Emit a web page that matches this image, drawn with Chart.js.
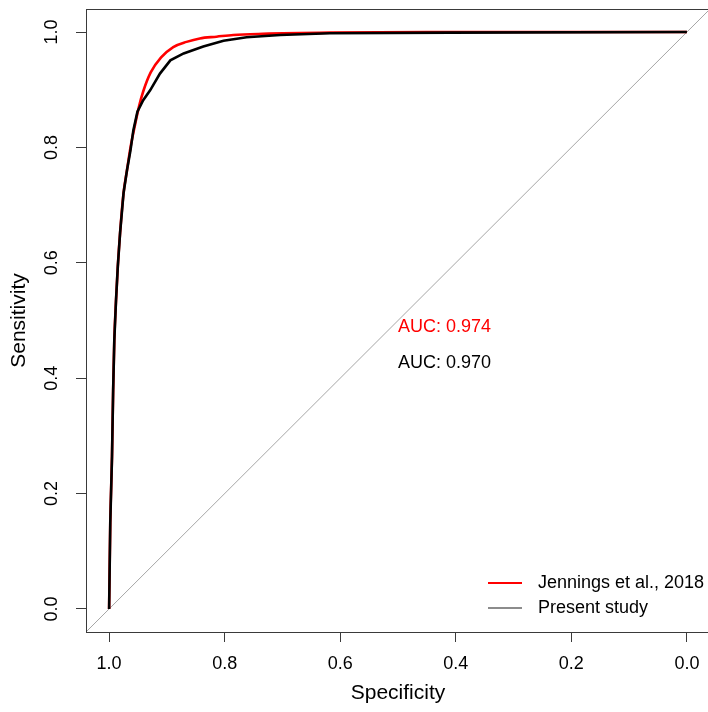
<!DOCTYPE html>
<html>
<head>
<meta charset="utf-8">
<script src="https://cdn.jsdelivr.net/npm/chart.js@4.4.1/dist/chart.umd.min.js"></script>
<style>
html, body { margin:0; padding:0; overflow:hidden; background:#fff; }
#wrap { width:720px; height:712px; }
</style>
</head>
<body>
<div id="wrap"><canvas id="c" width="720" height="712"></canvas></div>
<script>
// ---- data (specificity / sensitivity) ----
const tickValues = [0.0, 0.2, 0.4, 0.6, 0.8, 1.0];
const axisLimits = [-0.04, 1.04];

const jenningsSpec = [1.000, 0.998, 0.995, 0.993, 0.991, 0.988, 0.985, 0.981, 0.975, 0.969, 0.963, 0.955, 0.948, 0.941, 0.928, 0.910, 0.889, 0.866, 0.843, 0.814, 0.785, 0.734, 0.618, 0.450, 0.000];
const jenningsSens = [0.000, 0.149, 0.264, 0.380, 0.466, 0.536, 0.593, 0.652, 0.721, 0.761, 0.800, 0.840, 0.872, 0.897, 0.930, 0.956, 0.974, 0.983, 0.989, 0.992, 0.995, 0.997, 0.999, 1.000, 1.000];

const presentSpec = [1.000, 0.998, 0.995, 0.993, 0.991, 0.988, 0.985, 0.981, 0.975, 0.969, 0.963, 0.958, 0.951, 0.941, 0.929, 0.912, 0.894, 0.871, 0.837, 0.802, 0.762, 0.704, 0.618, 0.410, 0.000];
const presentSens = [0.000, 0.149, 0.264, 0.380, 0.466, 0.536, 0.593, 0.652, 0.721, 0.761, 0.795, 0.830, 0.862, 0.882, 0.899, 0.928, 0.951, 0.963, 0.975, 0.985, 0.991, 0.995, 0.998, 0.999, 1.000];

const seriesLabels = ["Jennings et al., 2018", "Present study"];
const legendColors = ["#ff0000", "#8c8c8c"];
const aucLabels = ["AUC: 0.974", "AUC: 0.970"];
const aucPos = [[0.5, 0.489], [0.5, 0.426]];
const aucColors = ["#ff0000", "#000000"];

// chance diagonal: sensitivity = 1 - specificity, across the axis limits
const diagX = [axisLimits[1], axisLimits[0]];

const FONT = "'Liberation Sans', Arimo, Helvetica, Arial, sans-serif";

const zip = (xs, ys) => xs.map((x, i) => ({x: x, y: ys[i]}));

const boxPlugin = {
  id: 'boxPlugin',
  afterDraw(chart) {
    const {ctx, chartArea: a, scales} = chart;
    ctx.save();
    ctx.strokeStyle = '#3a3a3a';
    ctx.lineWidth = 1;
    ctx.strokeRect(a.left + 0.5, a.top + 0.5, a.right - a.left, a.bottom - a.top);
    // AUC texts
    ctx.font = '18px ' + FONT;
    ctx.textAlign = 'left';
    ctx.textBaseline = 'middle';
    aucLabels.forEach((t, i) => {
      ctx.fillStyle = aucColors[i];
      ctx.fillText(t, scales.x.getPixelForValue(aucPos[i][0]), scales.y.getPixelForValue(aucPos[i][1]));
    });
    // legend (bottom right inside plot)
    const lx0 = a.right - 222, lx1 = a.right - 188, tx = a.right - 172;
    const ly = [a.bottom - 49, a.bottom - 24];
    seriesLabels.forEach((t, i) => {
      ctx.strokeStyle = legendColors[i];
      ctx.lineWidth = 2;
      ctx.beginPath();
      ctx.moveTo(lx0, ly[i]);
      ctx.lineTo(lx1, ly[i]);
      ctx.stroke();
      ctx.fillStyle = '#000';
      ctx.fillText(t, tx, ly[i]);
    });
    ctx.restore();
  }
};

const setTicks = (scale) => { scale.ticks = tickValues.map(v => ({value: v})); };

new Chart(document.getElementById('c'), {
  type: 'scatter',
  data: {
    datasets: [
      {
        label: 'diagonal',
        data: zip(diagX, diagX.map(x => 1 - x)),
        showLine: true, borderColor: '#a6a6a6', borderWidth: 1,
        pointRadius: 0, order: 3
      },
      {
        label: seriesLabels[0],
        data: zip(jenningsSpec, jenningsSens),
        showLine: true, borderColor: '#ff0000', borderWidth: 2.6,
        pointRadius: 0, order: 2, cubicInterpolationMode: 'monotone'
      },
      {
        label: seriesLabels[1],
        data: zip(presentSpec, presentSens),
        showLine: true, borderColor: '#000000', borderWidth: 2.6,
        pointRadius: 0, order: 1, tension: 0
      }
    ]
  },
  options: {
    responsive: false,
    animation: false,
    devicePixelRatio: 1,
    layout: { padding: { left: 0, top: 9, right: 10, bottom: 0 } },
    plugins: { legend: { display: false }, tooltip: { enabled: false } },
    scales: {
      x: {
        type: 'linear', reverse: true,
        min: axisLimits[0], max: axisLimits[1],
        afterBuildTicks: setTicks,
        afterFit: (s) => { s.height = 80; s.paddingLeft = 0; s.paddingRight = 0; s.paddingTop = 0; s.paddingBottom = 0; },
        border: { display: false },
        grid: { drawOnChartArea: false, drawTicks: true, tickLength: 10, tickColor: '#3a3a3a', tickWidth: 1 },
        ticks: { color: '#000', padding: 11, maxRotation: 0, minRotation: 0,
                 font: { family: FONT, size: 18 }, callback: (v) => Number(v).toFixed(1) },
        title: { display: true, text: 'Specificity', color: '#000',
                 font: { family: FONT, size: 21 }, padding: { top: 0, bottom: 6 } }
      },
      y: {
        type: 'linear',
        min: axisLimits[0], max: axisLimits[1],
        afterBuildTicks: setTicks,
        afterFit: (s) => { s.width = 86; s.paddingLeft = 0; s.paddingRight = 0; s.paddingTop = 0; s.paddingBottom = 0; },
        border: { display: false },
        grid: { drawOnChartArea: false, drawTicks: true, tickLength: 10, tickColor: '#3a3a3a', tickWidth: 1 },
        ticks: { color: '#000', padding: 11, minRotation: 90, maxRotation: 90, crossAlign: 'center',
                 font: { family: FONT, size: 18 }, callback: (v) => Number(v).toFixed(1) },
        title: { display: true, text: 'Sensitivity', color: '#000',
                 font: { family: FONT, size: 21 }, padding: { top: 7, bottom: 0 } }
      }
    }
  },
  plugins: [boxPlugin]
});
</script>
</body>
</html>
